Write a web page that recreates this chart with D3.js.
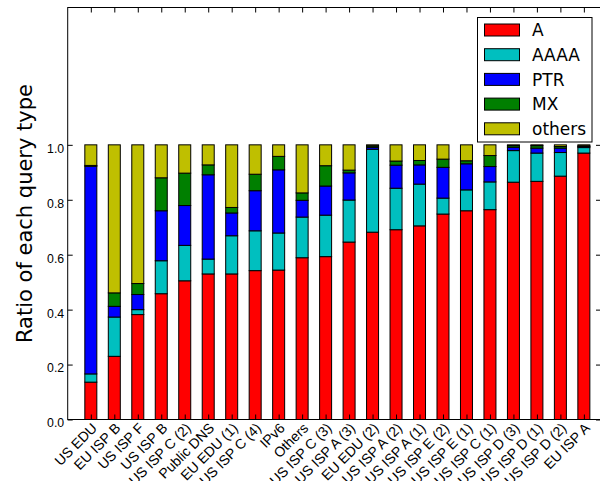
<!DOCTYPE html>
<html>
<head>
<meta charset="utf-8">
<script src="https://cdn.jsdelivr.net/npm/d3@7"></script>
<style>
  body { margin: 0; background: #fff; }
  svg  { display: block; font-family: "DejaVu Sans", sans-serif; }
</style>
</head>
<body>
<svg id="chart" width="600" height="481"></svg>
<script>
// categories (left to right)
const labels = [
  'US EDU', 'EU ISP B', 'US ISP F', 'US ISP B', 'US ISP C (2)', 'Public DNS',
  'EU EDU (1)', 'US ISP C (4)', 'IPv6', 'Others', 'US ISP C (3)', 'US ISP A (3)',
  'EU EDU (2)', 'US ISP A (2)', 'US ISP A (1)', 'US ISP E (2)', 'US ISP E (1)',
  'US ISP C (1)', 'US ISP D (3)', 'US ISP D (1)', 'US ISP D (2)', 'EU ISP A'
];

// ratio of each query type, per category
const aVals      = [.136, .230, .382, .458, .505, .530, .530, .542, .544, .589, .593, .646, .682, .691, .705, .748, .760, .764, .864, .867, .886, .970];
const aaaaVals   = [.030, .143, .018, .120, .129, .054, .139, .145, .135, .148, .151, .153, .302, .151, .152, .058, .076, .101, .115, .103, .086, .020];
const ptrVals    = [.756, .039, .055, .182, .145, .307, .083, .146, .230, .061, .106, .099, .007, .084, .070, .112, .095, .056, .012, .018, .016, .004];
const mxVals     = [.003, .049, .040, .120, .118, .036, .020, .060, .049, .027, .074, .010, .005, .015, .016, .030, .011, .040, .006, .009, .006, .002];
const othersVals = [.075, .539, .505, .120, .103, .073, .228, .107, .042, .175, .076, .092, .004, .059, .057, .052, .058, .039, .003, .003, .006, .004];

const seriesNames = ['A', 'AAAA', 'PTR', 'MX', 'others'];
const seriesColors = ['#ff0000', '#00bfbf', '#0000ff', '#007f00', '#bfbf00'];
const yTicks = [0, 0.2, 0.4, 0.6, 0.8, 1.0];

const rows = labels.map((name, i) => ({
  name,
  A: aVals[i], AAAA: aaaaVals[i], PTR: ptrVals[i], MX: mxVals[i], others: othersVals[i]
}));

const svg = d3.select('#chart');

// plot area (right spine sits just off the canvas)
const plotL = 67.7, plotR = 601, plotT = 7.5, plotB = 419.5;

const x = d3.scaleLinear().domain([-0.985, 21.73]).range([plotL, plotR]);
const y = d3.scaleLinear().domain([0, 1.5]).range([plotB, plotT]);
const barW = 12;

const stack = d3.stack().keys(seriesNames)(rows);

// bars
svg.append('g')
  .selectAll('g')
  .data(stack)
  .join('g')
    .attr('fill', (d, i) => seriesColors[i])
  .selectAll('rect')
  .data(d => d)
  .join('rect')
    .attr('x', (d, i) => x(i) - barW / 2)
    .attr('y', d => y(d[1]))
    .attr('width', barW)
    .attr('height', d => Math.max(0, y(d[0]) - y(d[1])))
    .attr('stroke', '#000')
    .attr('stroke-width', 1);

// axes, ticks pointing inward
const idx = d3.range(labels.length);

const xAxisG = svg.append('g')
  .attr('transform', `translate(0,${plotB})`)
  .call(d3.axisBottom(x).tickValues(idx).tickSize(-5).tickSizeOuter(0)
    .tickFormat(i => labels[i]));
xAxisG.selectAll('text')
  .attr('x', 0).attr('y', 0).attr('dy', 0)
  .attr('transform', 'translate(6.5,9.5) rotate(-45)')
  .style('text-anchor', 'end')
  .style('font-size', '14px')
  .attr('fill', '#000');

svg.append('g')
  .attr('transform', `translate(0,${plotT})`)
  .call(d3.axisTop(x).tickValues(idx).tickSize(-5).tickSizeOuter(0).tickFormat(''));

const yAxisG = svg.append('g')
  .attr('transform', `translate(${plotL},0)`)
  .call(d3.axisLeft(y).tickValues(yTicks).tickSize(-5).tickSizeOuter(0)
    .tickPadding(3.5).tickFormat(d3.format('.1f')));
yAxisG.selectAll('text')
  .attr('dy', '0.6em')
  .style('font-size', '12.3px')
  .attr('fill', '#000');

svg.append('g')
  .attr('transform', `translate(${plotR},0)`)
  .call(d3.axisRight(y).tickValues(yTicks).tickSize(-5).tickSizeOuter(0).tickFormat(''));

svg.selectAll('.domain').remove();
svg.selectAll('.tick line').attr('stroke', '#000');

// frame
svg.append('rect')
  .attr('x', plotL).attr('y', plotT)
  .attr('width', plotR - plotL).attr('height', plotB - plotT)
  .attr('fill', 'none').attr('stroke', '#000').attr('stroke-width', 1);

// y label
svg.append('text')
  .attr('transform', `translate(32,${(plotT + plotB) / 2}) rotate(-90)`)
  .attr('text-anchor', 'middle')
  .style('font-size', '21px')
  .attr('fill', '#000')
  .text('Ratio of each query type');

// legend
const lg = svg.append('g');
lg.append('rect')
  .attr('x', 477.5).attr('y', 17.5)
  .attr('width', 114.5).attr('height', 124.5)
  .attr('fill', '#fff').attr('stroke', '#000').attr('stroke-width', 1);

const rowY = [30, 54.7, 79.4, 104.1, 128.8];
seriesNames.forEach((name, i) => {
  lg.append('rect')
    .attr('x', 484.5).attr('y', rowY[i] - 6)
    .attr('width', 35).attr('height', 12)
    .attr('fill', seriesColors[i])
    .attr('stroke', '#000').attr('stroke-width', 1);
  lg.append('text')
    .attr('x', 532).attr('y', rowY[i])
    .attr('dy', '0.36em')
    .style('font-size', '17px')
    .attr('fill', '#000')
    .text(name);
});
</script>
</body>
</html>
